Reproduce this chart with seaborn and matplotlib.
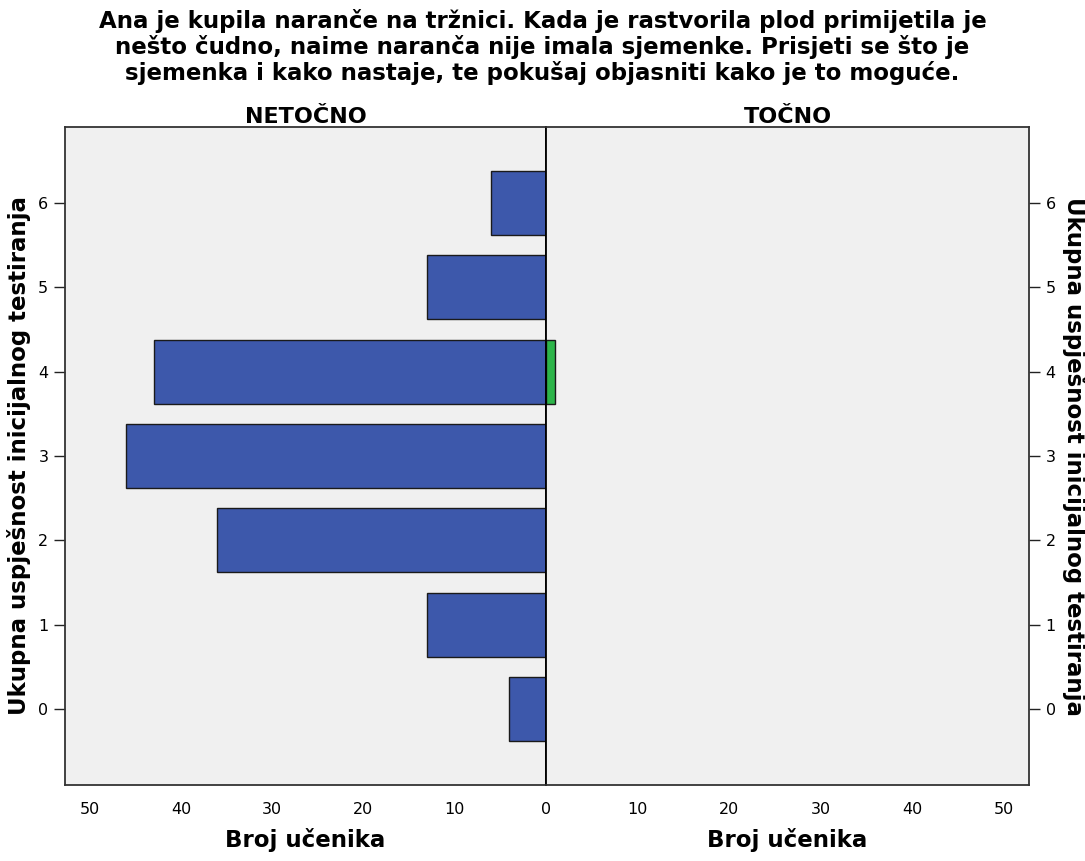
import pandas as pd
import matplotlib
matplotlib.use("Agg")
import matplotlib.pyplot as plt
import seaborn as sns

# data
scores = [0, 1, 2, 3, 4, 5, 6]
netocno = [4, 13, 36, 46, 43, 13, 6]   # incorrect answers
tocno = [0, 0, 0, 0, 1, 0, 0]          # correct answers
x_ticks = [0, 10, 20, 30, 40, 50]

title = ("Ana je kupila naranče na tržnici. Kada je rastvorila plod primijetila je\n"
         "nešto čudno, naime naranča nije imala sjemenke. Prisjeti se što je\n"
         "sjemenka i kako nastaje, te pokušaj objasniti kako je to moguće.")
ylab = "Ukupna uspješnost inicijalnog testiranja"
xlab = "Broj učenika"

df_left = pd.DataFrame({"score": scores, "count": netocno})
df_right = pd.DataFrame({"score": scores, "count": tocno})
df_right = df_right[df_right["count"] > 0]

sns.set_style("white")
plt.rcParams["font.family"] = ["DejaVu Sans"]
plt.rcParams["text.color"] = "black"
plt.rcParams["axes.labelcolor"] = "black"
plt.rcParams["xtick.color"] = "black"
plt.rcParams["ytick.color"] = "black"

W, H = 1085, 861
fig = plt.figure(figsize=(W / 100, H / 100), dpi=100)
ax1 = fig.add_axes([65 / W, 1 - 785 / H, 481 / W, 658 / H])
ax2 = fig.add_axes([546 / W, 1 - 785 / H, 483 / W, 658 / H])

blue = "#3D58AB"
green = "#2DB54A"
bg = "#F0F0F0"

sns.barplot(data=df_left, x="count", y="score", orient="h", native_scale=True,
            color=blue, edgecolor="#1a1a1a", linewidth=1, width=0.76, ax=ax1,
            saturation=1)
sns.barplot(data=df_right, x="count", y="score", orient="h", native_scale=True,
            color=green, edgecolor="#1a1a1a", linewidth=1, width=0.76, ax=ax2,
            saturation=1)

xmax = 52.7
ax1.set_xlim(xmax, 0)
ax2.set_xlim(0, xmax)

for ax in (ax1, ax2):
    ax.set_facecolor(bg)
    ax.set_ylim(-0.9, 6.9)
    ax.set_yticks(scores)
    ax.set_xticks(x_ticks)
    ax.set_xlabel(xlab, fontsize=16.5, fontweight="bold", labelpad=8)
    ax.tick_params(axis="both", length=8, width=1, color="#222222",
                   labelsize=11.5, direction="out", pad=4)
    for s in ax.spines.values():
        s.set_visible(True)
        s.set_color("#333333")
        s.set_linewidth(1.3)

ax1.spines["right"].set_color("black")
ax2.spines["left"].set_color("black")

ax1.set_ylabel(ylab, fontsize=16.5, fontweight="bold", labelpad=5)
ax1.yaxis.set_ticks_position("left")

ax2.set_xticklabels([""] + [str(t) for t in x_ticks[1:]])
ax2.yaxis.set_ticks_position("right")
ax2.yaxis.set_label_position("right")
ax2.set_ylabel(ylab, fontsize=16.5, fontweight="bold", rotation=270,
               labelpad=22)

ax1.set_title("NETOČNO", fontsize=16, fontweight="bold", pad=3)
ax2.set_title("TOČNO", fontsize=16, fontweight="bold", pad=3)

fig.suptitle(title, fontsize=16.5, fontweight="bold", y=0.99,
             linespacing=1.12)

fig.savefig("out.png", dpi=100, facecolor="white")
